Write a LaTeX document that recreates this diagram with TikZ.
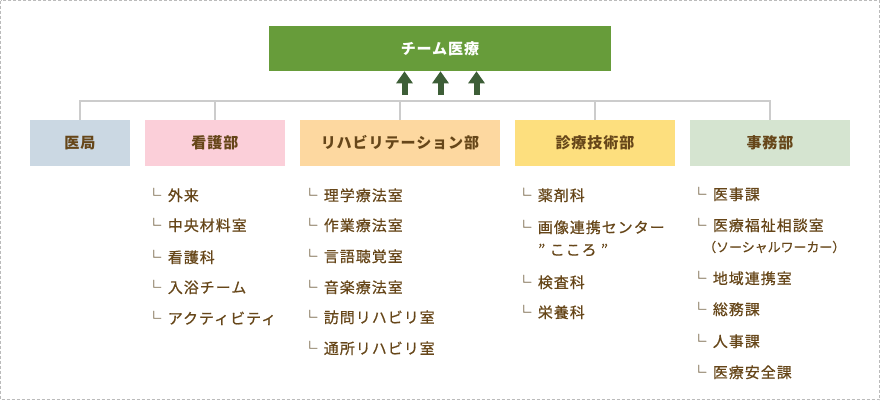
\documentclass[tikz,border=0pt]{standalone}
\usepackage{fontspec}
\setmainfont{Noto Sans CJK JP}
\newfontfamily\jpfont[LetterSpace=7, FakeBold=0.6]{Noto Sans CJK JP}
\newfontfamily\boxfont[LetterSpace=6]{Noto Sans CJK JP}
\newfontfamily\subfont[FakeBold=0.4]{Noto Sans CJK JP}
\usetikzlibrary{arrows.meta}

\newcommand{\mk}{{\color{mark_color}└}\hspace{5pt}}

\begin{document}
\begin{tikzpicture}[x=0.75pt, y=-0.75pt]
\definecolor{team_color}{RGB}{103,156,58}
\definecolor{arrow_color}{RGB}{61,94,55}
\definecolor{line_color}{RGB}{204,204,204}
\definecolor{frame_color}{RGB}{187,187,187}
\definecolor{text_color}{RGB}{102,70,25}
\definecolor{mark_color}{RGB}{140,125,100}
\definecolor{ikyoku_color}{RGB}{203,216,227}
\definecolor{kango_color}{RGB}{251,207,217}
\definecolor{reha_color}{RGB}{253,216,160}
\definecolor{shinryo_color}{RGB}{253,223,126}
\definecolor{jimu_color}{RGB}{213,228,208}

\tikzset{
  dept/.style={minimum height=34.5pt, inner sep=0pt, text=text_color, font=\boxfont\bfseries\fontsize{11.3}{13}\selectfont},
  item/.style={anchor=west, inner sep=0pt, text=text_color, font=\jpfont\fontsize{11.2}{13}\selectfont},
  tree/.style={line width=1.5pt, draw=line_color},
  up/.style={line width=4.5pt, draw=arrow_color, -{Triangle[width=12pt, length=9pt]}}
}

\useasboundingbox (0,0) rectangle (880,400);
\draw[frame_color, line width=0.75pt, dash pattern=on 2.25pt off 1.5pt] (0.5,0.5) rectangle (879.5,399.5);

\node[fill=team_color, minimum width=256.5pt, minimum height=33.75pt, inner sep=0pt, text=white, font=\boxfont\bfseries\fontsize{11.3}{13}\selectfont] (team) at (440,48.5) {チーム医療};

\node[dept, fill=ikyoku_color, minimum width=75pt] (ikyoku) at (80,143) {医局};
\node[dept, fill=kango_color, minimum width=105pt] (kango) at (215,143) {看護部};
\node[dept, fill=reha_color, minimum width=150pt] (reha) at (400,143) {リハビリテーション部};
\node[dept, fill=shinryo_color, minimum width=120pt] (shinryo) at (595,143) {診療技術部};
\node[dept, fill=jimu_color, minimum width=120pt] (jimu) at (770,143) {事務部};

\coordinate (bus) at (0,100.5);
\draw[tree] (ikyoku.north) -- (ikyoku.north |- bus) -- (jimu.north |- bus) -- (jimu.north);
\draw[tree] (kango.north) -- (kango.north |- bus);
\draw[tree] (reha.north) -- (reha.north |- bus);
\draw[tree] (shinryo.north) -- (shinryo.north |- bus);

\coordinate (a1) at (404.5,95);
\coordinate (a2) at (440.5,95);
\coordinate (a3) at (476.5,95);
\draw[up] (a1) -- (a1 |- team.south);
\draw[up] (a2) -- (a2 |- team.south);
\draw[up] (a3) -- (a3 |- team.south);

\node[item] (k1) at (146,195) {\mk 外来};
\node[item] (k2) at (146,225) {\mk 中央材料室};
\node[item] (k3) at (146,257) {\mk 看護科};
\node[item] (k4) at (146,287) {\mk 入浴チーム};
\node[item] (k5) at (146,318) {\mk アクティビティ};

\node[item] (r1) at (302,195) {\mk 理学療法室};
\node[item] (r2) at (302,225) {\mk 作業療法室};
\node[item] (r3) at (302,256) {\mk 言語聴覚室};
\node[item] (r4) at (302,287) {\mk 音楽療法室};
\node[item] (r5) at (302,317) {\mk 訪問リハビリ室};
\node[item] (r6) at (302,348) {\mk 通所リハビリ室};

\node[item] (s1) at (516,195) {\mk 薬剤科};
\node[item] (s2) at (516,227) {\mk 画像連携センター};
\node[item] (s2b) at (538,250) {” こころ ”};
\node[item] (s3) at (516,282) {\mk 検査科};
\node[item] (s4) at (516,312) {\mk 栄養科};

\node[item] (j1) at (691,194) {\mk 医事課};
\node[item] (j2) at (691,225) {\mk 医療福祉相談室};
\node[item, font=\subfont\fontsize{9.7}{11}\selectfont] (j2b) at (703,247) {（ソーシャルワーカー）};
\node[item] (j3) at (691,278) {\mk 地域連携室};
\node[item] (j4) at (691,309) {\mk 総務課};
\node[item] (j5) at (691,341) {\mk 人事課};
\node[item] (j6) at (691,372) {\mk 医療安全課};

\end{tikzpicture}
\end{document}
